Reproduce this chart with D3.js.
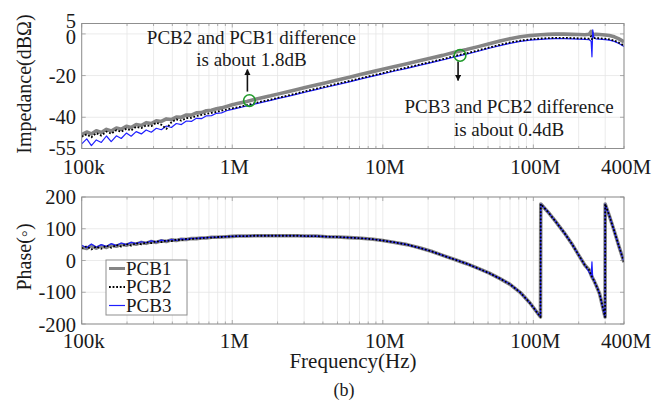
<!DOCTYPE html>
<html>
<head>
<meta charset="utf-8">
<script src="https://cdn.jsdelivr.net/npm/d3@7"></script>
<style>
  body { margin: 0; background: #fff; }
  text { font-family: "Liberation Serif", "Times New Roman", serif; fill: #1a1a1a; }
</style>
</head>
<body>
<svg id="chart" width="671" height="407"></svg>
<script>
// Measurement frequencies (MHz), shared by every trace
const freqMHz = [
  0.100, 0.108, 0.116, 0.125, 0.135, 0.146, 0.157, 0.170, 0.183, 0.198,
  0.213, 0.230, 0.249, 0.268, 0.290, 0.313, 0.338, 0.365, 0.394, 0.425,
  0.459, 0.496, 0.535, 0.578, 0.624, 0.674, 0.728, 0.786, 0.849, 0.917,
  1.0, 1.1, 1.25, 1.4, 1.6, 1.8, 2.0, 2.3, 2.7, 3.1,
  3.6, 4.2, 5.0, 6.0, 7.2, 8.6, 10, 12, 14.5, 17.5,
  21, 25, 30, 36, 43, 51, 60, 70, 82, 95,
  111.5, 112, 125, 140, 160, 180, 200, 220, 235, 242,
  245, 248, 252, 260, 275, 299.5, 300, 320, 345, 370, 400
];

// Impedance magnitude (dBΩ)
const pcb1Imp = [
  -48.4, -47.1, -48.0, -46.5, -47.3, -45.8, -46.6, -45.2, -45.8, -44.3,
  -44.9, -43.5, -44.0, -42.6, -43.0, -41.7, -42.0, -40.8, -41.1, -39.9,
  -40.0, -38.9, -39.0, -37.9, -37.8, -36.9, -36.6, -35.9, -35.5, -34.8,
  -34.0, -33.3, -32.4, -31.5, -30.5, -29.7, -28.9, -27.9, -26.7, -25.6,
  -24.5, -23.4, -22.1, -20.8, -19.4, -18.1, -17.0, -15.6, -14.3, -12.9,
  -11.6, -10.3, -8.8, -7.5, -6.1, -4.7, -3.4, -2.3, -1.4, -0.8,
  -0.4, -0.4, -0.2, -0.1, -0.1, -0.2, -0.3, -0.4, -0.2, 1.2,
  0.4, -0.2, -0.3, -0.2, -0.3, -0.5, -0.5, -0.8, -1.4, -2.4, -3.8
];
const pcb2Imp = [
  -49.3, -48.2, -49.6, -47.6, -48.8, -46.9, -47.9, -46.2, -47.0, -45.5,
  -46.3, -44.6, -45.2, -43.9, -44.3, -42.6, -43.6, -45.6, -42.4, -41.0,
  -41.6, -40.4, -40.3, -39.4, -38.9, -38.4, -37.9, -37.4, -36.8, -36.3,
  -35.7, -35.1, -34.2, -33.3, -32.3, -31.5, -30.7, -29.7, -28.5, -27.4,
  -26.3, -25.2, -23.9, -22.6, -21.2, -19.9, -18.8, -17.4, -16.1, -14.7,
  -13.4, -12.1, -10.6, -9.3, -7.9, -6.5, -5.2, -4.1, -3.2, -2.6,
  -2.2, -2.2, -2.0, -1.9, -1.9, -2.0, -2.1, -2.2, -2.3, -1.0,
  -2.6, -2.0, -2.0, -2.0, -2.1, -2.3, -2.3, -2.6, -3.2, -4.2, -5.6
];
const pcb3Imp = [
  -52.8, -50.4, -53.6, -50.9, -52.1, -49.0, -51.7, -48.9, -50.2, -47.6,
  -49.1, -46.9, -48.0, -46.1, -47.2, -45.3, -46.0, -44.2, -44.9, -43.0,
  -43.5, -41.8, -42.0, -40.5, -40.7, -39.3, -39.2, -38.1, -37.9, -36.9,
  -36.2, -35.5, -34.6, -33.7, -32.7, -31.9, -31.1, -30.1, -28.9, -27.8,
  -26.7, -25.6, -24.3, -23.0, -21.6, -20.3, -19.2, -17.8, -16.5, -15.1,
  -13.8, -12.5, -11.0, -9.7, -8.3, -6.9, -5.6, -4.5, -3.6, -3.0,
  -2.6, -2.6, -2.4, -2.3, -2.3, -2.4, -2.5, -2.6, -2.8, -3.5,
  -11.0, 2.0, -1.5, -2.4, -2.5, -2.7, -2.7, -3.0, -3.6, -4.6, -6.0
];

// Phase (degrees)
const pcb1Phase = [
  42, 38, 47, 39, 46, 41, 49, 45, 51, 48,
  54, 51, 57, 54, 60, 57, 62, 60, 65, 63,
  67, 66, 69, 69, 71, 71, 73, 73, 74, 75,
  76, 77, 77, 78, 78, 78, 78, 78, 78, 77,
  77, 75, 74, 72, 70, 67, 63, 57, 50, 40,
  29, 16, 3, -10, -25, -40, -57, -75, -101, -134,
  -178, 178, 153, 124, 88, 53, 17, -15, -30, -46,
  -52, -56, -62, -76, -104, -178, 178, 140, 92, 45, -5
];
const pcb2Phase = [
  38, 45, 35, 44, 37, 47, 40, 49, 44, 52,
  47, 55, 51, 57, 55, 61, 58, 63, 61, 66,
  64, 68, 67, 70, 70, 72, 72, 74, 74, 75,
  76, 77, 77, 78, 78, 78, 78, 78, 78, 77,
  77, 75, 74, 72, 70, 67, 63, 57, 50, 40,
  29, 16, 3, -10, -25, -40, -57, -75, -101, -134,
  -178, 178, 153, 124, 88, 53, 17, -15, -30, -46,
  -52, -56, -62, -76, -104, -178, 178, 140, 92, 45, -5
];
const pcb3Phase = [
  48, 40, 52, 42, 50, 44, 53, 47, 55, 50,
  57, 53, 59, 56, 62, 58, 64, 61, 66, 63,
  68, 66, 70, 69, 72, 71, 74, 73, 75, 75,
  76, 77, 77, 78, 78, 78, 78, 78, 78, 77,
  77, 75, 74, 72, 70, 67, 63, 57, 50, 40,
  29, 16, 3, -10, -25, -40, -57, -75, -101, -134,
  -178, 178, 153, 124, 88, 53, 17, -15, -38, -48,
  -4, -56, -62, -76, -104, -178, 178, 140, 92, 45, -5
];

// Axis ticks
const freqTickHz = [1e5, 1e6, 1e7, 1e8, 4e8];
const freqTickLabels = ["100k", "1M", "10M", "100M", "400M"];
const impTicks = [5, 0, -20, -40, -55];
const phaseTicks = [200, 100, 0, -100, -200];

// Highlighted points and their notes
const markFreqMHz = [1.3, 32.6];
const markImp = [-32.0, -10.3];

const seriesNames = ["PCB1", "PCB2", "PCB3"];

const svg = d3.select("#chart");

const x = d3.scaleLog().domain([1e5, 4e8]).range([81.7, 624]);
const yImp = d3.scaleLinear().domain([-55, 5]).range([148.5, 23.5]);
const yPh = d3.scaleLinear().domain([-200, 200]).range([324, 197]);

const styles = [
  { stroke: "#858585", width: 3.6, dash: null },
  { stroke: "#000", width: 1.8, dash: "1.8,1.8" },
  { stroke: "#1f1fff", width: 1.2, dash: null }
];

function panel(y, yTicks, labelNudge, labelBaseline, series) {
  const [x0, x1] = x.range();
  const [yb, yt] = y.range();
  const g = svg.append("g");

  // grid
  const gridX = x.ticks();
  g.selectAll(".gx").data(gridX).join("line")
    .attr("x1", d => x(d)).attr("x2", d => x(d))
    .attr("y1", yt).attr("y2", yb)
    .attr("stroke", "#e6e6e6").attr("stroke-width", 0.8);
  g.selectAll(".gy").data(yTicks).join("line")
    .attr("x1", x0).attr("x2", x1)
    .attr("y1", d => y(d)).attr("y2", d => y(d))
    .attr("stroke", "#e6e6e6").attr("stroke-width", 0.8);

  // inward ticks
  const decade = d => Math.abs(Math.log10(d) - Math.round(Math.log10(d))) < 1e-6;
  gridX.forEach(d => {
    const len = decade(d) ? 4 : 2.5;
    g.append("line").attr("x1", x(d)).attr("x2", x(d)).attr("y1", yb).attr("y2", yb - len)
      .attr("stroke", "#999").attr("stroke-width", 0.8);
    g.append("line").attr("x1", x(d)).attr("x2", x(d)).attr("y1", yt).attr("y2", yt + len)
      .attr("stroke", "#999").attr("stroke-width", 0.8);
  });
  yTicks.forEach(d => {
    g.append("line").attr("x1", x0).attr("x2", x0 + 4).attr("y1", y(d)).attr("y2", y(d))
      .attr("stroke", "#999").attr("stroke-width", 0.8);
    g.append("line").attr("x1", x1).attr("x2", x1 - 4).attr("y1", y(d)).attr("y2", y(d))
      .attr("stroke", "#999").attr("stroke-width", 0.8);
  });

  // traces
  const clipId = "clip" + Math.round(yt);
  svg.append("clipPath").attr("id", clipId).append("rect")
    .attr("x", x0).attr("y", yt - 1).attr("width", x1 - x0).attr("height", yb - yt + 2);
  const line = d3.line().x(d => x(d[0] * 1e6)).y(d => y(d[1]));
  const drawOrder = [0, 2, 1];
  drawOrder.forEach(i => {
    const pts = freqMHz.map((f, k) => [f, series[i][k]]);
    g.append("path").datum(pts)
      .attr("clip-path", `url(#${clipId})`)
      .attr("d", line)
      .attr("fill", "none")
      .attr("stroke", styles[i].stroke)
      .attr("stroke-width", styles[i].width)
      .attr("stroke-linejoin", "round")
      .attr("stroke-dasharray", styles[i].dash);
  });

  // frame
  g.append("rect").attr("x", x0).attr("y", yt).attr("width", x1 - x0).attr("height", yb - yt)
    .attr("fill", "none").attr("stroke", "#8f8f8f").attr("stroke-width", 1);

  // tick labels
  g.selectAll(".yl").data(yTicks).join("text")
    .attr("x", 76).attr("y", (d, i) => y(d) + labelNudge[i])
    .attr("dy", "0.35em")
    .attr("text-anchor", "end")
    .attr("font-size", 20.5)
    .text(d => d);
  g.selectAll(".xl").data(freqTickHz).join("text")
    .attr("x", d => x(d) + 2).attr("y", labelBaseline)
    .attr("text-anchor", "middle")
    .attr("font-size", 21)
    .text((d, i) => freqTickLabels[i]);
  return g;
}

panel(yImp, impTicks, [-3, 3, 0, 0, -1], 173.5, [pcb1Imp, pcb2Imp, pcb3Imp]);
panel(yPh, phaseTicks, [0, 0, 0, 0, 1], 347.5, [pcb1Phase, pcb2Phase, pcb3Phase]);

// axis titles
svg.append("text").attr("transform", "translate(31,84) rotate(-90)")
  .attr("text-anchor", "middle").attr("font-size", 20).text("Impedance(dBΩ)");
svg.append("text").attr("transform", "translate(31,257) rotate(-90)")
  .attr("text-anchor", "middle").attr("font-size", 20).text("Phase(◦)");
svg.append("text").attr("x", 353).attr("y", 368)
  .attr("text-anchor", "middle").attr("font-size", 21).text("Frequency(Hz)");
svg.append("text").attr("x", 344).attr("y", 396)
  .attr("text-anchor", "middle").attr("font-size", 18).text("(b)");

// highlighted points with notes
const defs = svg.append("defs");
defs.append("marker").attr("id", "arrowhead")
  .attr("viewBox", "0 0 10 10").attr("refX", 9).attr("refY", 5)
  .attr("markerWidth", 4).attr("markerHeight", 4).attr("orient", "auto")
  .append("path").attr("d", "M0,0 L10,5 L0,10 Z").attr("fill", "#111");

const notes = [
  { lines: ["PCB2 and PCB1 difference", "is about 1.8dB"], from: -9, to: -31, dx: 2, base: [-57, -35] },
  { lines: ["PCB3 and PCB2 difference", "is about 0.4dB"], from: 6, to: 25, dx: 49, base: [58, 81] }
];
markFreqMHz.forEach((f, i) => {
  const cx = x(f * 1e6), cy = yImp(markImp[i]);
  const n = notes[i];
  svg.append("line").attr("x1", cx - 2).attr("x2", cx - 2)
    .attr("y1", cy + n.from).attr("y2", cy + n.to)
    .attr("stroke", "#111").attr("stroke-width", 1.6)
    .attr("marker-end", "url(#arrowhead)");
  svg.append("circle").attr("cx", cx).attr("cy", cy).attr("r", 5.8)
    .attr("fill", "none").attr("stroke", "#1f9a2a").attr("stroke-width", 1.6);
  n.lines.forEach((t, j) => {
    svg.append("text").attr("x", cx + n.dx).attr("y", cy + n.base[j])
      .attr("text-anchor", "middle").attr("font-size", 19).text(t);
  });
});

// legend
const lg = svg.append("g").attr("transform", "translate(106,260)");
lg.append("rect").attr("width", 81).attr("height", 55)
  .attr("fill", "#fff").attr("stroke", "#8f8f8f").attr("stroke-width", 1);
seriesNames.forEach((name, i) => {
  const yy = 8.5 + i * 18.5;
  lg.append("line").attr("x1", 3).attr("x2", 19).attr("y1", yy).attr("y2", yy)
    .attr("stroke", styles[i].stroke)
    .attr("stroke-width", i === 0 ? 3 : styles[i].width)
    .attr("stroke-dasharray", styles[i].dash);
  lg.append("text").attr("x", 20).attr("y", yy).attr("dy", "0.33em")
    .attr("font-size", 19).text(name);
});
</script>
</body>
</html>
